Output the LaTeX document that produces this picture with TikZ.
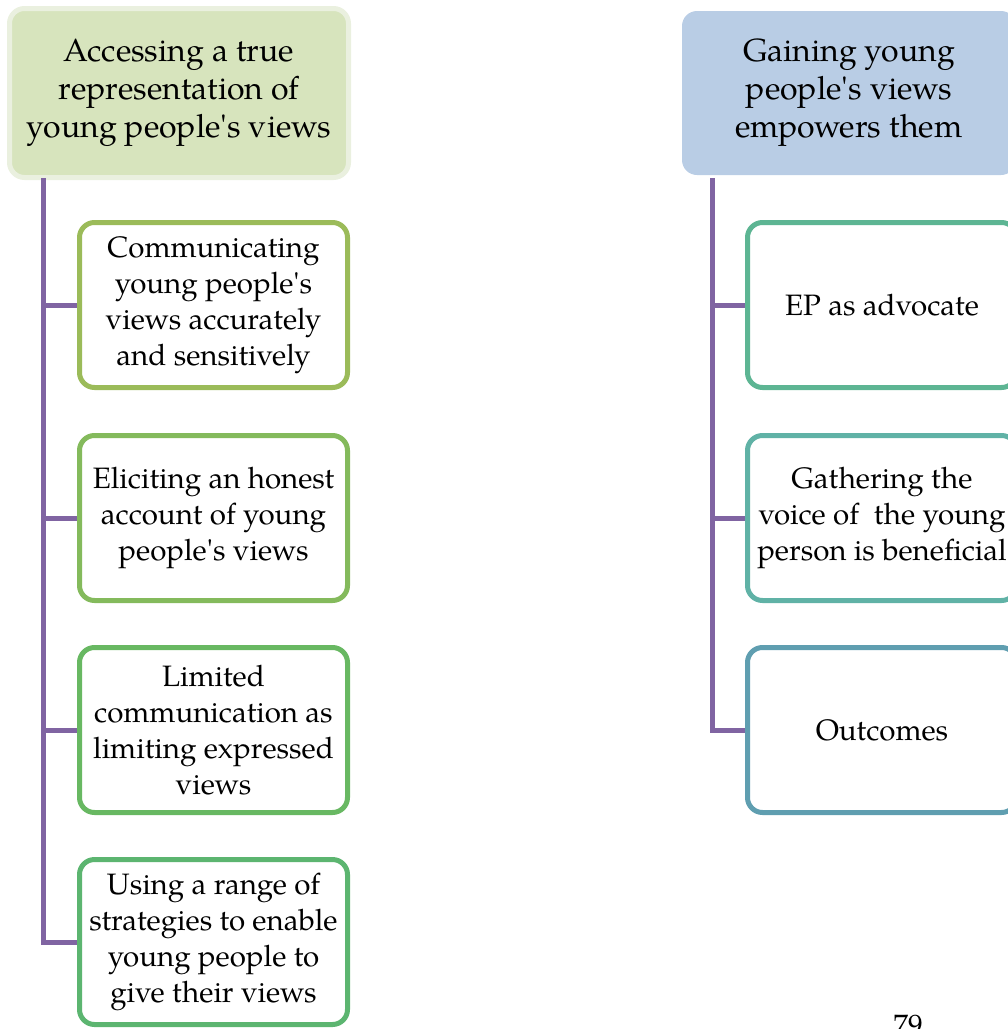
\documentclass[tikz,border=0pt]{standalone}
\usepackage{fontspec}
\setmainfont{TeX Gyre Pagella}
\newcommand{\ap}{\textquotesingle}
\definecolor{purp}{HTML}{8064A2}
\definecolor{hgfill}{HTML}{D7E4BD}
\definecolor{hgedge}{HTML}{EAF0DF}
\definecolor{hbfill}{HTML}{B9CDE5}
\definecolor{cA}{HTML}{9BBB59}
\definecolor{cB}{HTML}{84BA5C}
\definecolor{cC}{HTML}{68B862}
\definecolor{cD}{HTML}{5CB570}
\definecolor{cE}{HTML}{5DB593}
\definecolor{cF}{HTML}{60B2A6}
\definecolor{cG}{HTML}{5F9EB0}
\begin{document}
\begin{tikzpicture}[x=1pt,y=-1pt,
  txt/.style={align=center,font=\fontsize{29.5}{36}\selectfont,text=black,inner sep=0pt},
  header/.style={align=center,font=\fontsize{32}{38}\selectfont,text=black,inner sep=0pt,
    rounded corners=15pt,minimum width=#1,minimum height=164pt},
  child/.style={txt,rounded corners=15pt,line width=5pt,fill=white,minimum height=165pt},
  conn/.style={draw=purp,line width=5pt}]
\useasboundingbox (0,0) rectangle (1008,1029);
\clip (0,0) rectangle (1008,1029);
% headers
\node[header=339pt,minimum height=169pt,fill=hgfill,draw=hgedge,line width=5pt] (lh) at (179,93)
  {Accessing a true\\representation of\\young people\ap s views};
\node[header=334pt,fill=hbfill] (rh) at (849,93)
  {Gaining young\\people\ap s views\\empowers them};
% connector start points
\coordinate (lt) at (43,178);
\coordinate (rt) at (712,178);
% left children
\node[child,draw=cA,minimum width=268pt] (l1) at (213.5,305)
  {Communicating\\young people\ap s\\views accurately\\and sensitively};
\node[child,draw=cB,minimum width=268pt] (l2) at (213.5,518)
  {Eliciting an honest\\account of young\\people\ap s views};
\node[child,draw=cC,minimum width=268pt] (l3) at (213.5,730)
  {Limited\\communication as\\limiting expressed\\views};
\node[child,draw=cD,minimum width=268pt] (l4) at (213.5,942)
  {Using a range of\\strategies to enable\\young people to\\give their views};
% right children
\node[child,draw=cE,minimum width=269pt] (r1) at (882,305) {EP as advocate};
\node[child,draw=cF,minimum width=269pt] (r2) at (882,518)
  {Gathering the\\voice of\ \ the young\\person is beneficial};
\node[child,draw=cG,minimum width=269pt] (r3) at (882,730) {Outcomes};
% connectors
\draw[conn] (lt) |- (l4.west);
\draw[conn] (lt |- l1.west) -- (l1.west);
\draw[conn] (lt |- l2.west) -- (l2.west);
\draw[conn] (lt |- l3.west) -- (l3.west);
\draw[conn] (rt) |- (r3.west);
\draw[conn] (rt |- r1.west) -- (r1.west);
\draw[conn] (rt |- r2.west) -- (r2.west);
% page number
\node[txt,anchor=north] (pg) at (908,1015) {79};
\end{tikzpicture}
\end{document}
